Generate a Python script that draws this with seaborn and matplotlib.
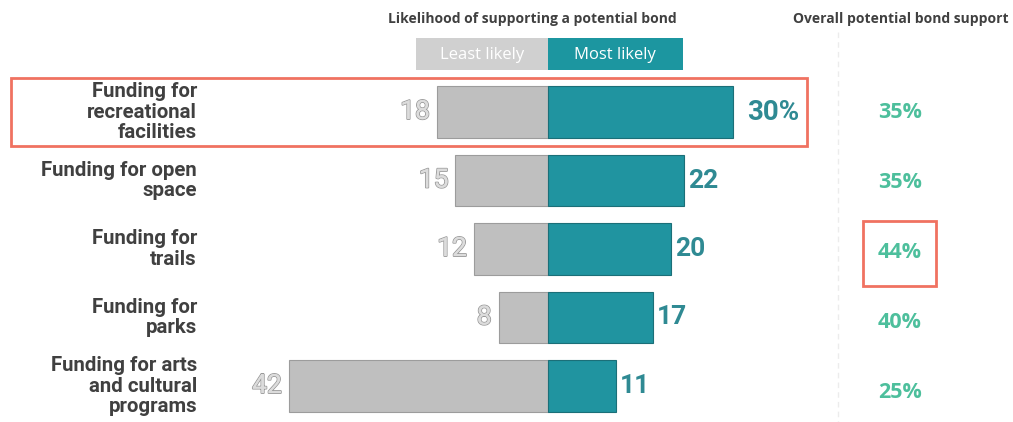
import matplotlib
matplotlib.use("Agg")
import matplotlib.pyplot as plt
import matplotlib.patheffects as pe
from matplotlib.patches import Rectangle
import seaborn as sns
import numpy as np

# Survey results
categories = [
    "Funding for\nrecreational\nfacilities",
    "Funding for open\nspace",
    "Funding for\ntrails",
    "Funding for\nparks",
    "Funding for arts\nand cultural\nprograms",
]
least_likely = [18, 15, 12, 8, 42]
most_likely = [30, 22, 20, 17, 11]
overall_support = [35, 35, 44, 40, 25]
most_labels = ["30%", "22", "20", "17", "11"]

GRAY = "#bfbfbf"
GRAY_EDGE = "#9c9c9c"
TEAL = "#2094a0"
TEAL_EDGE = "#1b6f78"
TEAL_TEXT = "#2f8a93"
MINT = "#4dbf9c"
DARK = "#404040"
CORAL = "#f07261"

sns.set_theme(style="white")
plt.rcParams["font.family"] = ["Roboto", "DejaVu Sans"]

W, H = 1013, 422
fig = plt.figure(figsize=(W / 100, H / 100), dpi=100)
ax = fig.add_axes([0, 0, 1, 1])


def fx(px):
    return px / W


def fy(py):
    return 1 - py / H


# Diverging bars: least likely to the left, most likely to the right
sns.barplot(x=-np.array(least_likely), y=categories, orient="h", color=GRAY,
            saturation=1, width=0.745, edgecolor=GRAY_EDGE, linewidth=0.8, ax=ax)
sns.barplot(x=np.array(most_likely), y=categories, orient="h", color=TEAL,
            saturation=1, width=0.745, edgecolor=TEAL_EDGE, linewidth=0.8, ax=ax)

scale = 6.17  # pixels per percentage point
ax.set_xlim(-548 / scale, (W - 548) / scale)
ax.set_ylim((H - 112) / 68.5, -112 / 68.5)
ax.axis("off")

# Category labels
for i, cat in enumerate(categories):
    ax.text(fx(197), i, cat, transform=ax.get_yaxis_transform(), ha="right",
            va="center", fontsize=14.7, fontweight="bold", color=DARK,
            linespacing=1.12)

# Value labels
outline = [pe.withStroke(linewidth=1.3, foreground="#9a9a9a"), pe.Normal()]
for i, (lv, mv, ml) in enumerate(zip(least_likely, most_likely, most_labels)):
    t = ax.annotate(str(lv), xy=(-lv, i), xytext=(-5, 0), textcoords="offset points",
                    ha="right", va="center", fontsize=19, color="#dcdcdc",
                    fontweight="normal")
    t.set_path_effects(outline)
    ax.annotate(ml, xy=(mv, i), xytext=(10 if i == 0 else 3, 0),
                textcoords="offset points", ha="left", va="center",
                fontsize=20 if i == 0 else 19, fontweight="bold", color=TEAL_TEXT)

# Overall support column
for i, val in enumerate(overall_support):
    fig.text(fx(900), fy(113 + 70 * i), f"{val}%", ha="center", va="center",
             fontsize=15.5, fontweight="bold", color=MINT,
             family=["Open Sans", "DejaVu Sans"])

# Headers
fig.text(fx(532), fy(19), "Likelihood of supporting a potential bond", ha="center",
         va="center", fontsize=10, fontweight="bold", color=DARK,
         family=["Open Sans", "DejaVu Sans"])
fig.text(fx(901), fy(19), "Overall potential bond support", ha="center",
         va="center", fontsize=10, fontweight="bold", color=DARK,
         family=["Open Sans", "DejaVu Sans"])

# Legend blocks
fig.patches.append(Rectangle((fx(416), fy(70)), fx(548) - fx(416), fy(38) - fy(70),
                             transform=fig.transFigure, facecolor="#d0d0d0",
                             edgecolor="none"))
fig.patches.append(Rectangle((fx(548), fy(70)), fx(683) - fx(548), fy(38) - fy(70),
                             transform=fig.transFigure, facecolor="#1c96a0",
                             edgecolor="none"))
fig.text(fx(482), fy(55), "Least likely", ha="center", va="center", fontsize=12,
         color="white", family=["Open Sans", "DejaVu Sans"])
fig.text(fx(615), fy(55), "Most likely", ha="center", va="center", fontsize=12,
         color="white", family=["Open Sans", "DejaVu Sans"])

# Faint divider before the overall column
fig.add_artist(plt.Line2D([fx(838), fx(838)], [fy(32), fy(422)],
                          transform=fig.transFigure, color="#ececec", lw=1,
                          linestyle=(0, (4, 3))))

# Highlight boxes
fig.patches.append(Rectangle((fx(11), fy(146)), fx(807) - fx(11), fy(78) - fy(146),
                             transform=fig.transFigure, facecolor="none",
                             edgecolor=CORAL, linewidth=2))
fig.patches.append(Rectangle((fx(863), fy(286)), fx(936) - fx(863), fy(221) - fy(286),
                             transform=fig.transFigure, facecolor="none",
                             edgecolor=CORAL, linewidth=2))

fig.savefig("out.png", dpi=100, facecolor="white")
